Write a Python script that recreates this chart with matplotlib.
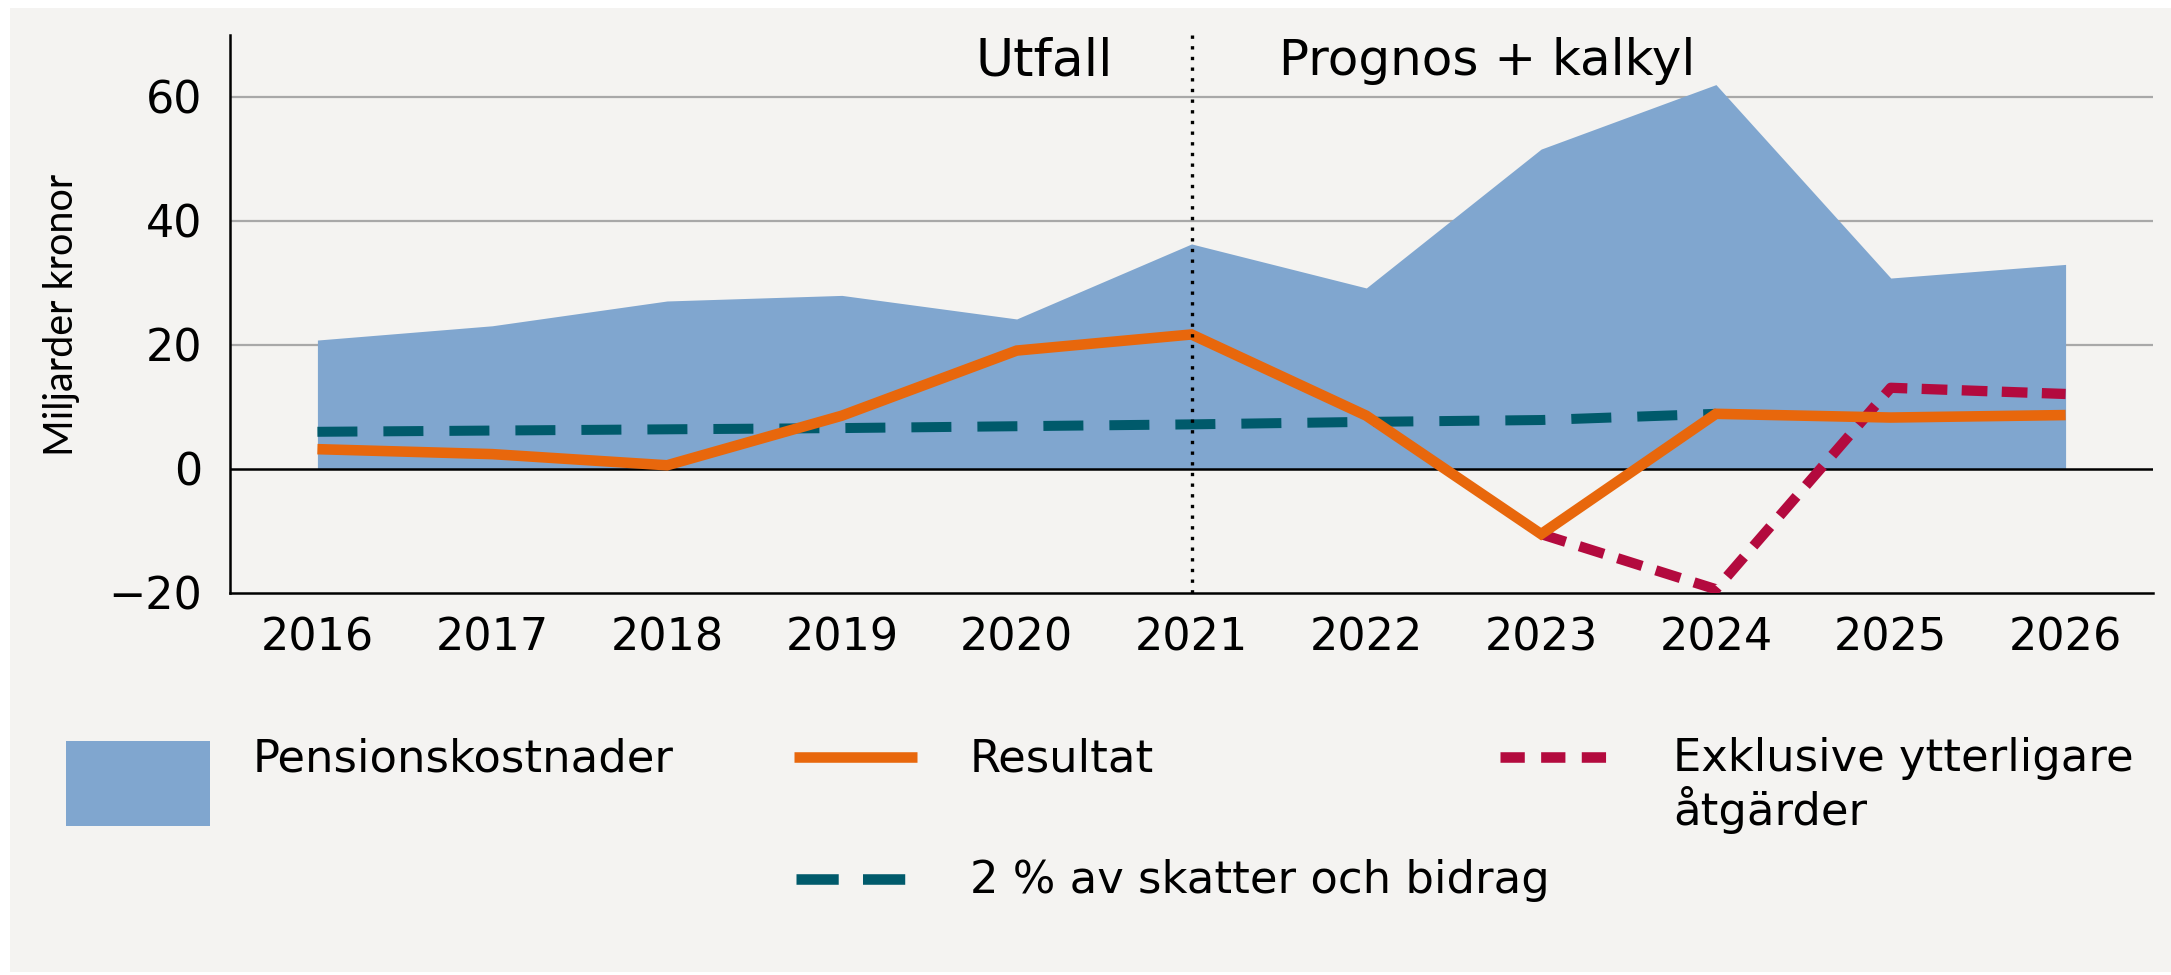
import matplotlib
matplotlib.use("Agg")
import matplotlib.pyplot as plt
from matplotlib.patches import Rectangle
from matplotlib.lines import Line2D

# ---------------- data ----------------
years = [2016, 2017, 2018, 2019, 2020, 2021, 2022, 2023, 2024, 2025, 2026]
pensionskostnader = [20.8, 23.1, 27.1, 28.0, 24.2, 36.3, 29.2, 51.6, 62.0, 30.8, 33.0]
resultat = [3.2, 2.4, 0.6, 8.6, 19.1, 21.7, 8.6, -10.5, 8.9, 8.3, 8.7]
exkl_years = [2023, 2024, 2025, 2026]
exklusive = [-10.5, -19.4, 13.1, 12.1]
tva_years = [2016, 2017, 2018, 2019, 2020, 2021, 2022, 2023, 2024]
tva_procent = [6.0, 6.2, 6.4, 6.6, 6.9, 7.2, 7.6, 7.9, 8.9]
yticks = [-20, 0, 20, 40, 60]
split_year = 2021

# ---------------- style ----------------
BG = "#F4F3F1"
BLUE = "#80A6CF"
ORANGE = "#E8670C"
TEAL = "#005A6B"
CRIMSON = "#B30A3E"
FONT = ["DejaVu Sans"]
plt.rcParams["font.family"] = FONT

W, H = 2171, 975
fig = plt.figure(figsize=(W / 100, H / 100), dpi=100)
fig.patch.set_facecolor("white")
fig.add_artist(Rectangle((10 / W, 3 / H), (W - 10) / W, (H - 11) / H,
                         transform=fig.transFigure, facecolor=BG,
                         edgecolor="none", zorder=-10))

def fx(px):
    return px / W

def fy(py):
    return 1 - py / H

ax = fig.add_axes([fx(230), fy(593), fx(2153) - fx(230), fy(35) - fy(593)])
ax.set_facecolor("none")

ax.set_xlim(2015.5, 2026.5)
ax.set_ylim(-20, 70)

# grid
for v in [20, 40, 60]:
    ax.axhline(v, color="#A8A8A8", lw=1.6, zorder=0)

ax.fill_between(years, 0, pensionskostnader, color=BLUE, lw=0, zorder=1)
ax.axhline(0, color="black", lw=1.8, zorder=2)

ax.plot(tva_years, tva_procent, color=TEAL, lw=7.2, dashes=(4.0, 2.6),
        solid_capstyle="butt", dash_capstyle="butt", zorder=3)
ax.plot(exkl_years, exklusive, color=CRIMSON, lw=7.4, dashes=(2.5, 1.4),
        dash_capstyle="butt", zorder=4)
ax.plot(years, resultat, color=ORANGE, lw=7.6, solid_joinstyle="miter",
        solid_capstyle="butt", zorder=5)

ax.axvline(split_year, color="black", lw=2.4, ls=(0, (1, 2.2)), zorder=6)
ax.text(split_year - 0.45, 65.8, "Utfall", ha="right", va="center", fontsize=37.5)
ax.text(split_year + 0.5, 65.8, "Prognos + kalkyl", ha="left", va="center", fontsize=36)

for s in ["top", "right"]:
    ax.spines[s].set_visible(False)
ax.spines["left"].set_linewidth(1.8)
ax.spines["bottom"].set_linewidth(1.8)

ax.set_xticks(years)
ax.set_xticklabels([str(y) for y in years])
ax.set_yticks(yticks)
ax.set_yticklabels(["\u221220" if t < 0 else str(t) for t in yticks])
ax.tick_params(axis="both", length=0, labelsize=32)
ax.tick_params(axis="x", pad=17)
ax.tick_params(axis="y", pad=20)

fig.text(fx(62), fy(315), "Miljarder kronor", rotation=90, ha="center", va="center",
         fontsize=28.5, family=["Lato", "DejaVu Sans"])

# ---------------- legend ----------------
LFS = 32.3
fig.add_artist(Rectangle((fx(66), fy(826)), fx(210) - fx(66), fy(741) - fy(826),
                         transform=fig.transFigure, facecolor=BLUE, edgecolor="none"))
fig.text(fx(253), fy(759), "Pensionskostnader", ha="left", va="center", fontsize=LFS)

fig.add_artist(Line2D([fx(794), fx(917)], [fy(757), fy(757)], transform=fig.transFigure,
                      color=ORANGE, lw=7.6, solid_capstyle="butt"))
fig.text(fx(970), fy(759), "Resultat", ha="left", va="center", fontsize=LFS)

fig.add_artist(Line2D([fx(1500), fx(1620)], [fy(757), fy(757)], transform=fig.transFigure,
                      color=CRIMSON, lw=7.6, dashes=(2.3, 1.55), dash_capstyle="butt"))
fig.text(fx(1673), fy(759), "Exklusive ytterligare", ha="left", va="center", fontsize=LFS)
fig.text(fx(1673), fy(810), "åtgärder", ha="left", va="center", fontsize=LFS)

fig.add_artist(Line2D([fx(796), fx(905)], [fy(879), fy(879)], transform=fig.transFigure,
                      color=TEAL, lw=7.6, dashes=(4.0, 2.3), dash_capstyle="butt"))
fig.text(fx(970), fy(881), "2 % av skatter och bidrag", ha="left", va="center", fontsize=LFS)

fig.savefig("out.png", dpi=100, facecolor=fig.get_facecolor())
